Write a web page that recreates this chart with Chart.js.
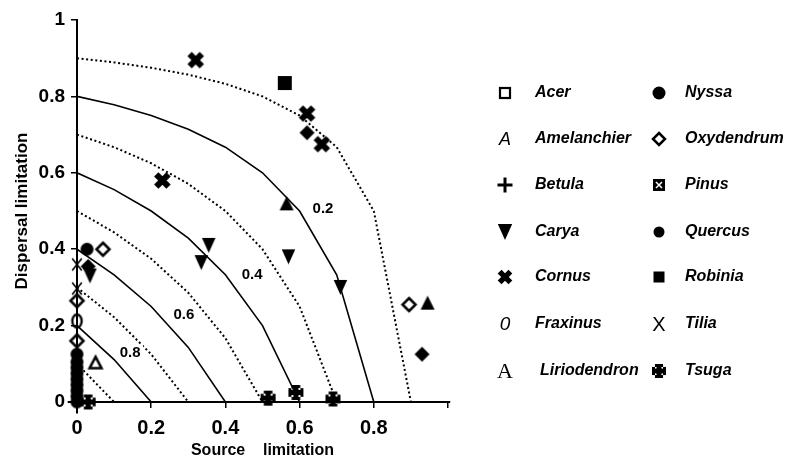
<!DOCTYPE html>
<html><head><meta charset="utf-8">
<script src="https://cdn.jsdelivr.net/npm/chart.js@4.4.0/dist/chart.umd.min.js"></script>
<style>html,body{margin:0;padding:0;background:#fff;}#wrap{width:785px;height:460px;position:relative}</style>
</head><body><div id="wrap"><canvas id="c" width="785" height="460"></canvas></div>
<script>
// ---------- data ----------
const xTicks = [0, 0.2, 0.4, 0.6, 0.8, 1];
const xTickLabels = ['0', '0.2', '0.4', '0.6', '0.8', ''];
const yTicks = [0, 0.2, 0.4, 0.6, 0.8, 1];
const yTickLabels = ['0', '0.2', '0.4', '0.6', '0.8', '1'];

// species points (source limitation, dispersal limitation)
const cornusX = [0.32, 0.23, 0.62, 0.66];
const cornusY = [0.895, 0.58, 0.755, 0.675];
const robiniaX = [0.56];
const robiniaY = [0.835];
const nyssaX = [0.62, 0.93, 0.03];
const nyssaY = [0.705, 0.125, 0.355];
const lirioX = [0.565, 0.945];
const lirioY = [0.52, 0.26];
const caryaX = [0.355, 0.335, 0.57, 0.71, 0.035];
const caryaY = [0.41, 0.365, 0.38, 0.30, 0.33];
const oxyX = [0.895, 0.07, 0, 0];
const oxyY = [0.255, 0.40, 0.265, 0.16];
const quercusX = [0.027, 0, 0, 0, 0, 0, 0, 0, 0, 0];
const quercusY = [0.40, 0.125, 0.105, 0.09, 0.075, 0.06, 0.045, 0.03, 0.015, 0];
const amelX = [0.05];
const amelY = [0.103];
const fraxX = [0];
const fraxY = [0.212];
const tiliaX = [0, 0];
const tiliaY = [0.36, 0.297];
const tsugaX = [0.515, 0.59, 0.69, 0.03];
const tsugaY = [0.01, 0.025, 0.008, 0];
const acerX = [], acerY = [];
const betulaX = [], betulaY = [];
const pinusX = [], pinusY = [];

// iso-recruitment curves (source limitation steps / dispersal limitation)
const isoS = [0, 0.1, 0.2, 0.3, 0.4, 0.5, 0.6, 0.7, 0.8, 0.9];
const iso10 = [0.9, 0.889, 0.875, 0.857, 0.833, 0.8, 0.75, 0.667, 0.5, 0];
const iso20 = [0.8, 0.778, 0.75, 0.714, 0.667, 0.6, 0.5, 0.333, 0];
const iso30 = [0.7, 0.667, 0.625, 0.571, 0.5, 0.4, 0.25, 0];
const iso40 = [0.6, 0.556, 0.5, 0.429, 0.333, 0.2, 0];
const iso50 = [0.5, 0.444, 0.375, 0.286, 0.167, 0];
const iso60 = [0.4, 0.333, 0.25, 0.143, 0];
const iso70 = [0.3, 0.222, 0.125, 0];
const iso80 = [0.2, 0.111, 0];
const iso90 = [0.1, 0];
const isoLabels = ['0.2', '0.4', '0.6', '0.8'];
const isoLabelX = [0.663, 0.472, 0.288, 0.143];
const isoLabelY = [0.505, 0.332, 0.228, 0.128];

const legendCol1 = ['Acer', 'Amelanchier', 'Betula', 'Carya', 'Cornus', 'Fraxinus', 'Liriodendron'];
const legendCol2 = ['Nyssa', 'Oxydendrum', 'Pinus', 'Quercus', 'Robinia', 'Tilia', 'Tsuga'];

// ---------- symbol drawers ----------
const K = '#000';
function sqOpen(c, x, y, s) { c.strokeStyle = K; c.lineWidth = 2.2; c.strokeRect(x - s/2, y - s/2, s, s); }
function sqFill(c, x, y, s) { c.fillStyle = K; c.fillRect(x - s/2, y - s/2, s, s); }
function sqX(c, x, y, s) { c.fillStyle = K; c.fillRect(x - s/2, y - s/2, s, s);
  c.strokeStyle = '#fff'; c.lineWidth = 1.5; c.beginPath();
  c.moveTo(x - s/4, y - s/4); c.lineTo(x + s/4, y + s/4); c.moveTo(x + s/4, y - s/4); c.lineTo(x - s/4, y + s/4); c.stroke(); }
function circ(c, x, y, s) { c.fillStyle = K; c.beginPath(); c.arc(x, y, s/2, 0, Math.PI*2); c.fill(); }
function ellOpen(c, x, y, s) { c.strokeStyle = K; c.lineWidth = 2.3; c.beginPath(); c.ellipse(x, y, s*0.36, s/2, 0, 0, Math.PI*2); c.stroke(); }
function diaFill(c, x, y, s) { c.fillStyle = K; c.beginPath(); c.moveTo(x, y - s/2); c.lineTo(x + s/2, y); c.lineTo(x, y + s/2); c.lineTo(x - s/2, y); c.closePath(); c.fill(); }
function diaOpen(c, x, y, s) { c.strokeStyle = K; c.lineWidth = 2.5; c.beginPath(); c.moveTo(x, y - s/2); c.lineTo(x + s/2, y); c.lineTo(x, y + s/2); c.lineTo(x - s/2, y); c.closePath(); c.stroke(); }
function triUp(c, x, y, s) { c.fillStyle = K; c.beginPath(); c.moveTo(x, y - s/2); c.lineTo(x + s/2, y + s/2); c.lineTo(x - s/2, y + s/2); c.closePath(); c.fill(); }
function triUpOpen(c, x, y, s) { c.strokeStyle = K; c.lineWidth = 2.5; c.lineJoin = 'miter'; c.beginPath(); c.moveTo(x, y - s*0.42); c.lineTo(x + s/2 - 1, y + s*0.4); c.lineTo(x - s/2 + 1, y + s*0.4); c.closePath(); c.stroke(); }
function triDown(c, x, y, s) { c.fillStyle = K; c.beginPath(); c.moveTo(x - s*0.45, y - s/2); c.lineTo(x + s*0.45, y - s/2); c.lineTo(x, y + s/2); c.closePath(); c.fill(); }
function boldX(c, x, y, s) { c.strokeStyle = K; c.lineWidth = s*0.36; c.lineCap = 'butt'; c.beginPath();
  const h = s*0.36; c.moveTo(x - h, y - h); c.lineTo(x + h, y + h); c.moveTo(x + h, y - h); c.lineTo(x - h, y + h); c.stroke(); }
function thinX(c, x, y, s) { c.strokeStyle = K; c.lineWidth = 1.6; c.beginPath(); const h = s/2;
  c.moveTo(x - h*0.8, y - h); c.lineTo(x + h*0.8, y + h); c.moveTo(x + h*0.8, y - h); c.lineTo(x - h*0.8, y + h); c.stroke(); }
function plus(c, x, y, s) { c.strokeStyle = K; c.lineWidth = 3; c.beginPath(); c.moveTo(x - s/2, y); c.lineTo(x + s/2, y); c.moveTo(x, y - s/2); c.lineTo(x, y + s/2); c.stroke(); }
function tsugaSym(c, x, y, s) { c.fillStyle = K; const w = s*0.34;
  c.fillRect(x - s/2, y - w/2, s, w); c.fillRect(x - w/2, y - s/2, w, s);
  c.beginPath(); c.arc(x, y, s*0.24, 0, Math.PI*2); c.fill();
  // flared ends
  c.beginPath(); c.moveTo(x - s/2, y - w*0.85); c.lineTo(x - s/2 + 3, y - w*0.85); c.lineTo(x - s/2 + 3, y + w*0.85); c.lineTo(x - s/2, y + w*0.85); c.fill();
  c.beginPath(); c.moveTo(x + s/2, y - w*0.85); c.lineTo(x + s/2 - 3, y - w*0.85); c.lineTo(x + s/2 - 3, y + w*0.85); c.lineTo(x + s/2, y + w*0.85); c.fill();
  c.beginPath(); c.moveTo(x - w*0.85, y - s/2); c.lineTo(x + w*0.85, y - s/2); c.lineTo(x + w*0.85, y - s/2 + 3); c.lineTo(x - w*0.85, y - s/2 + 3); c.fill();
  c.beginPath(); c.moveTo(x - w*0.85, y + s/2); c.lineTo(x + w*0.85, y + s/2); c.lineTo(x + w*0.85, y + s/2 - 3); c.lineTo(x - w*0.85, y + s/2 - 3); c.fill(); }
function txtSym(str, font) { return function (c, x, y) { c.fillStyle = K; c.font = font; c.textAlign = 'center'; c.textBaseline = 'middle'; c.fillText(str, x, y + 1); }; }

function mk(fn, s) {
  const cv = document.createElement('canvas');
  const n = Math.ceil(s + 6);
  cv.width = n; cv.height = n;
  fn(cv.getContext('2d'), n/2, n/2, s);
  return cv;
}

const pts = (xs, ys) => xs.map((v, i) => ({x: v, y: ys[i]}));

const speciesSets = [
  {label: 'Acer', xs: acerX, ys: acerY, sym: mk(sqOpen, 10)},
  {label: 'Betula', xs: betulaX, ys: betulaY, sym: mk(plus, 14)},
  {label: 'Pinus', xs: pinusX, ys: pinusY, sym: mk(sqX, 12)},
  {label: 'Quercus', xs: quercusX, ys: quercusY, sym: mk(circ, 13)},
  {label: 'Oxydendrum', xs: oxyX, ys: oxyY, sym: mk(diaOpen, 13)},
  {label: 'Nyssa', xs: nyssaX, ys: nyssaY, sym: mk(diaFill, 15)},
  {label: 'Liriodendron', xs: lirioX, ys: lirioY, sym: mk(triUp, 14)},
  {label: 'Amelanchier', xs: amelX, ys: amelY, sym: mk(triUpOpen, 14)},
  {label: 'Carya', xs: caryaX, ys: caryaY, sym: mk(triDown, 15)},
  {label: 'Cornus', xs: cornusX, ys: cornusY, sym: mk(boldX, 17)},
  {label: 'Robinia', xs: robiniaX, ys: robiniaY, sym: mk(sqFill, 14)},
  {label: 'Fraxinus', xs: fraxX, ys: fraxY, sym: mk(ellOpen, 13)},
  {label: 'Tilia', xs: tiliaX, ys: tiliaY, sym: mk(thinX, 12)},
  {label: 'Tsuga', xs: tsugaX, ys: tsugaY, sym: mk(tsugaSym, 15)}
];

const isoSets = [
  [iso10, true], [iso20, false], [iso30, true], [iso40, false], [iso50, true],
  [iso60, false], [iso70, true], [iso80, false], [iso90, true]
];

const datasets = [];
isoSets.forEach(([arr, dotted]) => {
  datasets.push({
    type: 'scatter', label: 'iso', showLine: true,
    data: pts(isoS.slice(0, arr.length), arr),
    borderColor: K, borderWidth: dotted ? 2 : 1.6,
    borderDash: dotted ? [2, 2.6] : [],
    pointRadius: 0, pointHoverRadius: 0, fill: false, tension: 0
  });
});
speciesSets.forEach(sp => {
  datasets.push({
    type: 'scatter', label: sp.label, data: pts(sp.xs, sp.ys),
    pointStyle: sp.sym, pointRadius: 6, pointHoverRadius: 6,
    backgroundColor: K, borderColor: K, clip: false
  });
});

// legend symbols
const legSym1 = [
  (c, x, y) => sqOpen(c, x, y, 10),
  txtSym('A', 'italic 18px "Liberation Sans"'),
  (c, x, y) => plus(c, x, y, 15),
  (c, x, y) => triDown(c, x, y, 16),
  (c, x, y) => boldX(c, x, y, 15),
  txtSym('0', 'italic 19px "Liberation Sans"'),
  txtSym('A', '22px "Liberation Serif"')
];
const legSym2 = [
  (c, x, y) => circ(c, x, y, 13),
  (c, x, y) => diaOpen(c, x, y, 12),
  (c, x, y) => sqX(c, x, y, 12),
  (c, x, y) => circ(c, x, y, 11),
  (c, x, y) => sqFill(c, x, y, 11),
  txtSym('X', '20px "Liberation Sans"'),
  (c, x, y) => tsugaSym(c, x, y, 14)
];

const deco = {
  id: 'deco',
  afterDatasetsDraw(chart) {
    const c = chart.ctx, xs = chart.scales.x, ys = chart.scales.y;
    c.save();
    // axis overshoot
    c.strokeStyle = K; c.lineWidth = 2;
    c.beginPath();
    c.moveTo(xs.getPixelForValue(-0.025), ys.getPixelForValue(0));
    c.lineTo(xs.getPixelForValue(0), ys.getPixelForValue(0));
    c.moveTo(xs.getPixelForValue(1), ys.getPixelForValue(0));
    c.lineTo(xs.getPixelForValue(1.006), ys.getPixelForValue(0));
    c.moveTo(xs.getPixelForValue(0), ys.getPixelForValue(0));
    c.lineTo(xs.getPixelForValue(0), ys.getPixelForValue(-0.03));
    c.stroke();
    // iso labels
    c.fillStyle = K; c.font = 'bold 15px "Liberation Sans"';
    c.textAlign = 'center'; c.textBaseline = 'middle';
    isoLabels.forEach((t, i) => {
      const px = xs.getPixelForValue(isoLabelX[i]), py = ys.getPixelForValue(isoLabelY[i]);
      c.fillStyle = '#fff'; c.fillRect(px - 13, py - 8, 26, 16);
      c.fillStyle = K; c.fillText(t, px, py);
    });
    // legend
    const rowY = [93, 139, 185, 232, 277, 324, 371];
    legendCol1.forEach((t, i) => {
      c.save(); legSym1[i](c, 505, rowY[i]); c.restore();
      c.fillStyle = K; c.font = 'italic bold 16px "Liberation Sans"'; c.textAlign = 'left'; c.textBaseline = 'middle';
      c.fillText(t, i === 6 ? 540 : 535, rowY[i]);
    });
    legendCol2.forEach((t, i) => {
      c.save(); legSym2[i](c, 659, rowY[i]); c.restore();
      c.fillStyle = K; c.font = 'italic bold 16px "Liberation Sans"'; c.textAlign = 'left'; c.textBaseline = 'middle';
      c.fillText(t, 685, rowY[i]);
    });
    c.restore();
  }
};

new Chart(document.getElementById('c'), {
  type: 'scatter',
  data: {datasets},
  options: {
    responsive: false, animation: false, devicePixelRatio: 1,
    layout: {padding: {left: 0, top: 20, right: 337, bottom: 0}},
    plugins: {legend: {display: false}, tooltip: {enabled: false}},
    scales: {
      x: {
        type: 'linear', min: 0, max: 1,
        afterFit: s => { s.height = 58; },
        afterBuildTicks: s => { s.ticks = xTicks.map(v => ({value: v})); },
        ticks: {color: K, font: {family: 'Liberation Sans', size: 20, weight: 'bold'}, padding: 8,
          maxRotation: 0, autoSkip: false, callback: (v, i) => xTickLabels[i]},
        grid: {display: true, drawOnChartArea: false, drawTicks: true, tickLength: 6, color: K, lineWidth: 1.5},
        border: {display: true, color: K, width: 2},
        title: {display: true, text: 'Source    limitation', color: K,
          font: {family: 'Liberation Sans', size: 16, weight: 'bold'}, padding: {top: 0, bottom: 0}}
      },
      y: {
        type: 'linear', min: 0, max: 1,
        afterFit: s => { s.width = 77; },
        afterBuildTicks: s => { s.ticks = yTicks.map(v => ({value: v})); },
        ticks: {color: K, font: {family: 'Liberation Sans', size: 19, weight: 'bold'}, padding: 6,
          autoSkip: false, callback: (v, i) => yTickLabels[i]},
        grid: {display: true, drawOnChartArea: false, drawTicks: true, tickLength: 6, color: K, lineWidth: 1.5},
        border: {display: true, color: K, width: 2},
        title: {display: true, text: 'Dispersal limitation', color: K,
          font: {family: 'Liberation Sans', size: 17, weight: 'bold'}, padding: {top: 12, bottom: 0}}
      }
    }
  },
  plugins: [deco]
});
</script>
</body></html>
